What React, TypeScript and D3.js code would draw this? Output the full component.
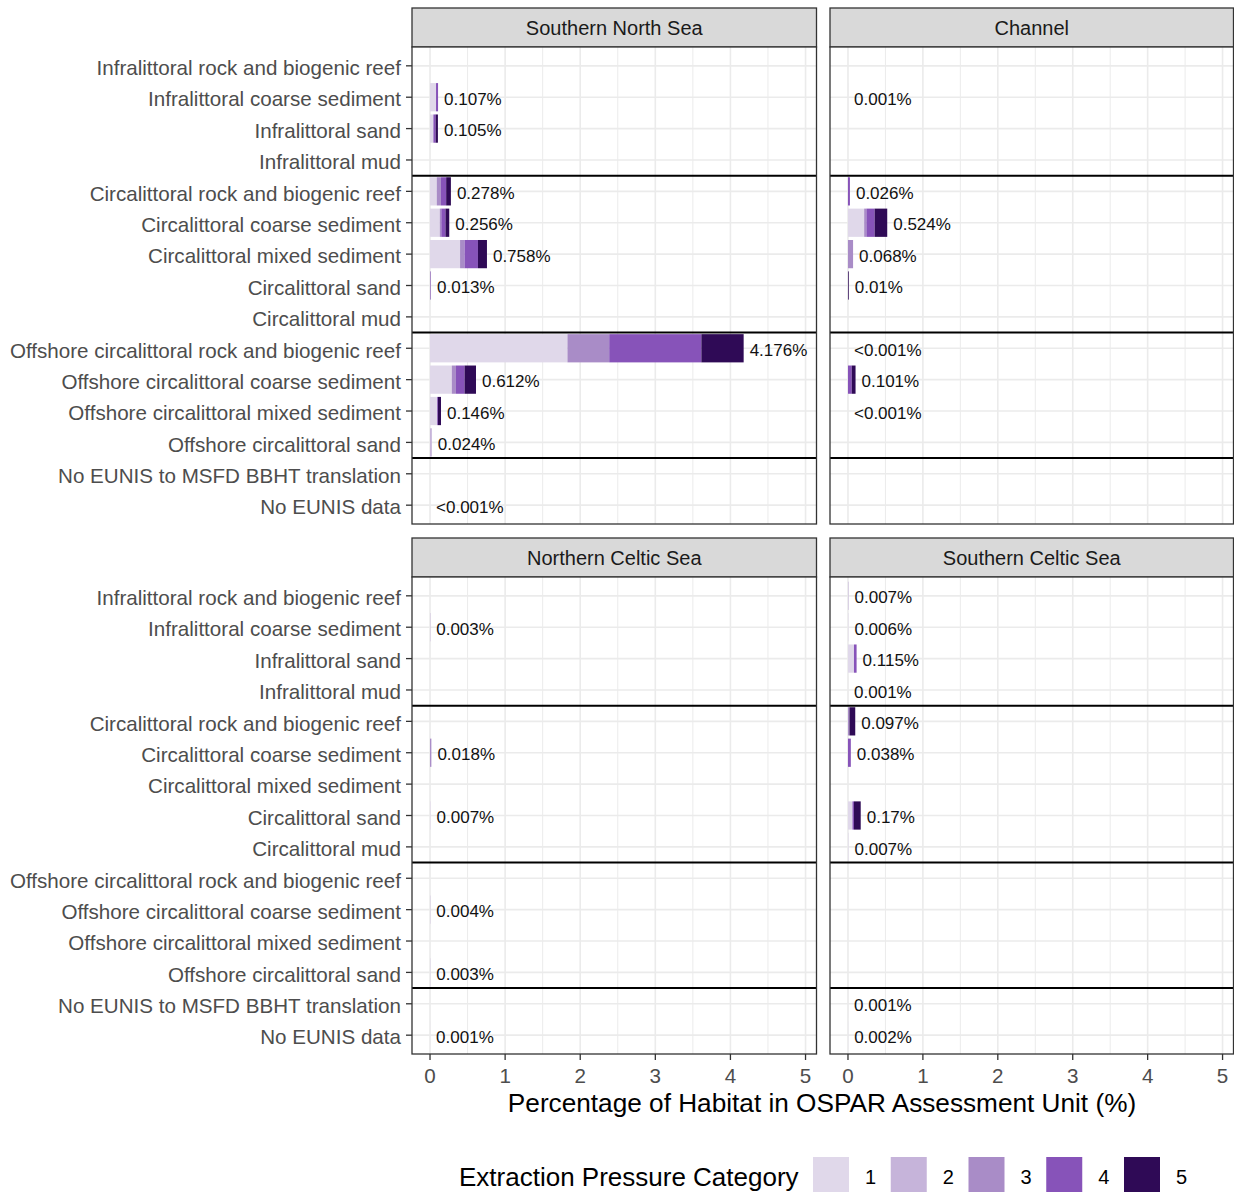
import React from "react";
import * as d3 from "d3";

const habitats = [
  "Infralittoral rock and biogenic reef",
  "Infralittoral coarse sediment",
  "Infralittoral sand",
  "Infralittoral mud",
  "Circalittoral rock and biogenic reef",
  "Circalittoral coarse sediment",
  "Circalittoral mixed sediment",
  "Circalittoral sand",
  "Circalittoral mud",
  "Offshore circalittoral rock and biogenic reef",
  "Offshore circalittoral coarse sediment",
  "Offshore circalittoral mixed sediment",
  "Offshore circalittoral sand",
  "No EUNIS to MSFD BBHT translation",
  "No EUNIS data",
];

const pressureCats = ["1", "2", "3", "4", "5"];
const pressureColors = ["#e0d8ea", "#c6b4da", "#a98cc7", "#8753b9", "#2f0a56"];
const panelNames = ["Southern North Sea", "Channel", "Northern Celtic Sea", "Southern Celtic Sea"];
const xTicks = [0, 1, 2, 3, 4, 5];
const xMinor = [0.5, 1.5, 2.5, 3.5, 4.5];
const groupBreaks = [3.5, 8.5, 12.5];

// values per habitat: [cat1, cat2, cat3, cat4, cat5] (% of habitat)
const southernNorthSea = [
  [0, 0, 0, 0, 0],
  [0.08, 0, 0, 0.027, 0],
  [0.045, 0, 0, 0.03, 0.03],
  [0, 0, 0, 0, 0],
  [0.09, 0, 0.055, 0.07, 0.063],
  [0.13, 0, 0.02, 0.056, 0.05],
  [0.4, 0, 0.06, 0.178, 0.12],
  [0, 0, 0.013, 0, 0],
  [0, 0, 0, 0, 0],
  [1.83, 0, 0.556, 1.227, 0.563],
  [0.29, 0, 0.055, 0.115, 0.152],
  [0.095, 0, 0, 0.01, 0.041],
  [0, 0.024, 0, 0, 0],
  [0, 0, 0, 0, 0],
  [0.0004, 0, 0, 0, 0],
];
const channel = [
  [0, 0, 0, 0, 0],
  [0.001, 0, 0, 0, 0],
  [0, 0, 0, 0, 0],
  [0, 0, 0, 0, 0],
  [0, 0, 0, 0.026, 0],
  [0.216, 0, 0.03, 0.11, 0.168],
  [0, 0, 0.068, 0, 0],
  [0, 0, 0, 0, 0.01],
  [0, 0, 0, 0, 0],
  [0.0004, 0, 0, 0, 0],
  [0, 0, 0, 0.05, 0.051],
  [0.0004, 0, 0, 0, 0],
  [0, 0, 0, 0, 0],
  [0, 0, 0, 0, 0],
  [0, 0, 0, 0, 0],
];
const northernCelticSea = [
  [0, 0, 0, 0, 0],
  [0, 0, 0.003, 0, 0],
  [0, 0, 0, 0, 0],
  [0, 0, 0, 0, 0],
  [0, 0, 0, 0, 0],
  [0, 0, 0.018, 0, 0],
  [0, 0, 0, 0, 0],
  [0.007, 0, 0, 0, 0],
  [0, 0, 0, 0, 0],
  [0, 0, 0, 0, 0],
  [0, 0.004, 0, 0, 0],
  [0, 0, 0, 0, 0],
  [0, 0.003, 0, 0, 0],
  [0, 0, 0, 0, 0],
  [0.001, 0, 0, 0, 0],
];
const southernCelticSea = [
  [0, 0.007, 0, 0, 0],
  [0.006, 0, 0, 0, 0],
  [0.08, 0, 0, 0.035, 0],
  [0.001, 0, 0, 0, 0],
  [0, 0, 0.02, 0, 0.077],
  [0, 0, 0, 0.038, 0],
  [0, 0, 0, 0, 0],
  [0.06, 0, 0, 0.02, 0.09],
  [0.007, 0, 0, 0, 0],
  [0, 0, 0, 0, 0],
  [0, 0, 0, 0, 0],
  [0, 0, 0, 0, 0],
  [0, 0, 0, 0, 0],
  [0.001, 0, 0, 0, 0],
  [0.002, 0, 0, 0, 0],
];

const labelsSNS = [null, "0.107%", "0.105%", null, "0.278%", "0.256%", "0.758%", "0.013%", null, "4.176%", "0.612%", "0.146%", "0.024%", null, "<0.001%"];
const labelsChannel = [null, "0.001%", null, null, "0.026%", "0.524%", "0.068%", "0.01%", null, "<0.001%", "0.101%", "<0.001%", null, null, null];
const labelsNCS = [null, "0.003%", null, null, null, "0.018%", null, "0.007%", null, null, "0.004%", null, "0.003%", null, "0.001%"];
const labelsSCS = ["0.007%", "0.006%", "0.115%", "0.001%", "0.097%", "0.038%", null, "0.17%", "0.007%", null, null, null, null, "0.001%", "0.002%"];

const panelValues = [southernNorthSea, channel, northernCelticSea, southernCelticSea];
const panelLabels = [labelsSNS, labelsChannel, labelsNCS, labelsSCS];

const FONT = "'Liberation Sans', Arial, sans-serif";

const colX = [
  [412, 816.5],
  [830, 1233.5],
];
const rowY = [
  { strip: 8, top: 47, bottom: 524 },
  { strip: 538, top: 577, bottom: 1054 },
];

function Panel({ idx }: { idx: number }) {
  const col = idx % 2;
  const row = Math.floor(idx / 2);
  const [x0, x1] = colX[col];
  const { strip, top, bottom } = rowY[row];
  const x = d3.scaleLinear().domain([-0.24, 5.146]).range([x0, x1]);
  const y = d3.scalePoint<string>().domain(habitats).range([top, bottom]).padding(0.6);
  const step = y.step();
  const yIdx = d3.scaleLinear().domain([0, habitats.length - 1]).range([y(habitats[0])!, y(habitats[habitats.length - 1])!]);
  const bh = step * 0.9;
  const values = panelValues[idx];
  const labels = panelLabels[idx];
  const showY = col === 0;
  const showX = row === 1;
  return (
    <g>
      {/* strip */}
      <rect x={x0} y={strip} width={x1 - x0} height={top - strip} fill="#d9d9d9" stroke="#333" strokeWidth={1.3} />
      <text x={(x0 + x1) / 2} y={(strip + top) / 2} dy="0.38em" textAnchor="middle" fontSize={20} fill="#1a1a1a" fontFamily={FONT}>
        {panelNames[idx]}
      </text>
      {/* background */}
      <rect x={x0} y={top} width={x1 - x0} height={bottom - top} fill="#fff" />
      {/* grid */}
      {xMinor.map((t) => (
        <line key={"mn" + t} x1={x(t)} x2={x(t)} y1={top} y2={bottom} stroke="#ebebeb" strokeWidth={1} />
      ))}
      {habitats.map((h) => (
        <line key={"hg" + h} x1={x0} x2={x1} y1={y(h)} y2={y(h)} stroke="#ebebeb" strokeWidth={1.6} />
      ))}
      {xTicks.map((t) => (
        <line key={"mj" + t} x1={x(t)} x2={x(t)} y1={top} y2={bottom} stroke="#ebebeb" strokeWidth={1.6} />
      ))}
      {/* bars */}
      {values.map((vals, i) => {
        const yc = y(habitats[i])!;
        let cum = 0;
        return (
          <g key={"b" + i}>
            {vals.map((v, k) => {
              const s = cum;
              cum += v;
              if (v <= 0) return null;
              return (
                <rect key={k} x={x(s)} y={yc - bh / 2} width={x(s + v) - x(s)} height={bh} fill={pressureColors[k]} />
              );
            })}
          </g>
        );
      })}
      {/* labels */}
      {labels.map((lab, i) => {
        if (!lab) return null;
        const tot = d3.sum(values[i]);
        return (
          <text key={"l" + i} x={x(tot) + 6} y={y(habitats[i])!} dy="0.45em" fontSize={17} fill="#111" fontFamily={FONT}>
            {lab}
          </text>
        );
      })}
      {/* group separators */}
      {groupBreaks.map((g) => (
        <line key={"g" + g} x1={x0} x2={x1} y1={yIdx(g)} y2={yIdx(g)} stroke="#000" strokeWidth={2} />
      ))}
      {/* border */}
      <rect x={x0} y={top} width={x1 - x0} height={bottom - top} fill="none" stroke="#333" strokeWidth={1.3} />
      {/* y axis */}
      {showY &&
        habitats.map((h) => (
          <g key={"ya" + h}>
            <line x1={x0 - 6} x2={x0} y1={y(h)} y2={y(h)} stroke="#333" strokeWidth={1.3} />
            <text x={x0 - 11} y={y(h)} dy="0.45em" textAnchor="end" fontSize={20.6} fill="#4d4d4d" fontFamily={FONT}>
              {h}
            </text>
          </g>
        ))}
      {/* x axis */}
      {showX &&
        xTicks.map((t) => (
          <g key={"xa" + t}>
            <line x1={x(t)} x2={x(t)} y1={bottom} y2={bottom + 6} stroke="#333" strokeWidth={1.3} />
            <text x={x(t)} y={bottom + 22} dy="0.36em" textAnchor="middle" fontSize={20.6} fill="#4d4d4d" fontFamily={FONT}>
              {t}
            </text>
          </g>
        ))}
    </g>
  );
}

export default function App() {
  const legendX = d3.scaleLinear().domain([0, 4]).range([813, 1124]);
  return (
    <svg width={1234} height={1192} style={{ position: "absolute", left: 0, top: 0, background: "#fff" }}>
      <rect width={1234} height={1192} fill="#fff" />
      {panelNames.map((_, i) => (
        <Panel key={i} idx={i} />
      ))}
      <text x={822} y={1103} dy="0.36em" textAnchor="middle" fontSize={26.2} fill="#000" fontFamily={FONT}>
        Percentage of Habitat in OSPAR Assessment Unit (%)
      </text>
      <text x={459} y={1176} dy="0.38em" fontSize={26} fill="#000" fontFamily={FONT}>
        Extraction Pressure Category
      </text>
      {pressureCats.map((c, i) => (
        <g key={c}>
          <rect x={legendX(i)} y={1157} width={36} height={36} fill={pressureColors[i]} />
          <text x={legendX(i) + 52} y={1176} dy="0.38em" fontSize={20} fill="#000" fontFamily={FONT}>
            {c}
          </text>
        </g>
      ))}
    </svg>
  );
}
